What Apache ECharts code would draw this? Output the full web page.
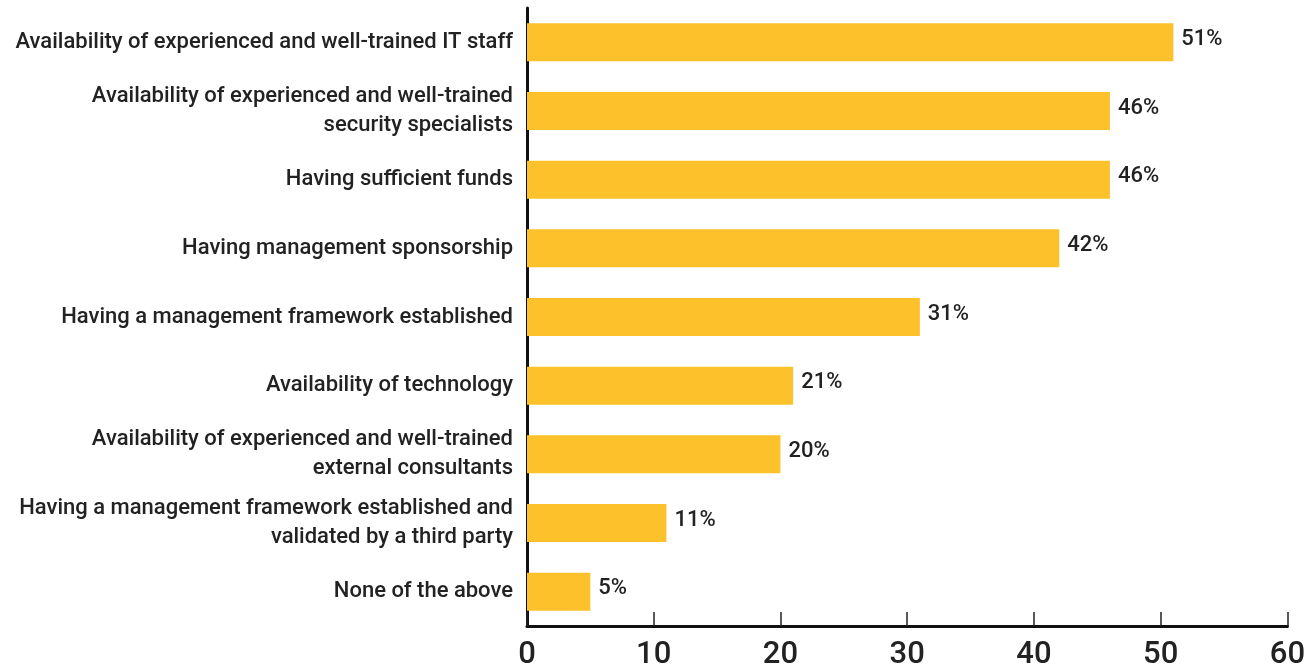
<!DOCTYPE html>
<html><head><meta charset="utf-8">
<script src="https://cdn.jsdelivr.net/npm/echarts@6/dist/echarts.min.js"></script>
<style>html,body{margin:0;padding:0;background:#fff}#c{width:1308px;height:671px}</style>
</head><body><div id="c"></div>
<script>
const categories = [
  "Availability of experienced and well-trained IT staff",
  "Availability of experienced and well-trained\nsecurity specialists",
  "Having sufficient funds",
  "Having management sponsorship",
  "Having a management framework established",
  "Availability of technology",
  "Availability of experienced and well-trained\nexternal consultants",
  "Having a management framework established and\nvalidated by a third party",
  "None of the above"
];
const values = [51, 46, 46, 42, 31, 21, 20, 11, 5];
const xTicks = [0, 10, 20, 30, 40, 50, 60];

const FONT = "Roboto, 'Liberation Sans', sans-serif";
const chart = echarts.init(document.getElementById('c'), null, {renderer: 'canvas'});
chart.setOption({
  animation: false,
  grid: {left: 527, right: 20, top: 8, bottom: 41, containLabel: false},
  xAxis: {
    type: 'value', min: xTicks[0], max: xTicks[xTicks.length - 1], interval: 10,
    splitLine: {show: false},
    axisLine: {show: true, lineStyle: {color: '#111', width: 3}},
    axisTick: {show: true, inside: true, length: 14, lineStyle: {color: '#222', width: 1.5}},
    axisLabel: {color: '#222', fontFamily: FONT, fontSize: 31, fontWeight: 500, margin: 14}
  },
  yAxis: {
    type: 'category', inverse: true, data: categories,
    axisLine: {show: true, lineStyle: {color: '#111', width: 3}},
    axisTick: {show: false},
    axisLabel: {color: '#222', fontFamily: FONT, fontSize: 22, fontWeight: 500, lineHeight: 29, margin: 14, align: 'right'}
  },
  series: [{
    type: 'bar', data: values, barWidth: 38,
    itemStyle: {color: '#FDC22B'},
    label: {show: true, position: 'right', distance: 8, formatter: '{c}%', color: '#222', fontFamily: FONT, fontSize: 22, fontWeight: 500, offset: [0, -3]}
  }]
});
</script></body></html>
